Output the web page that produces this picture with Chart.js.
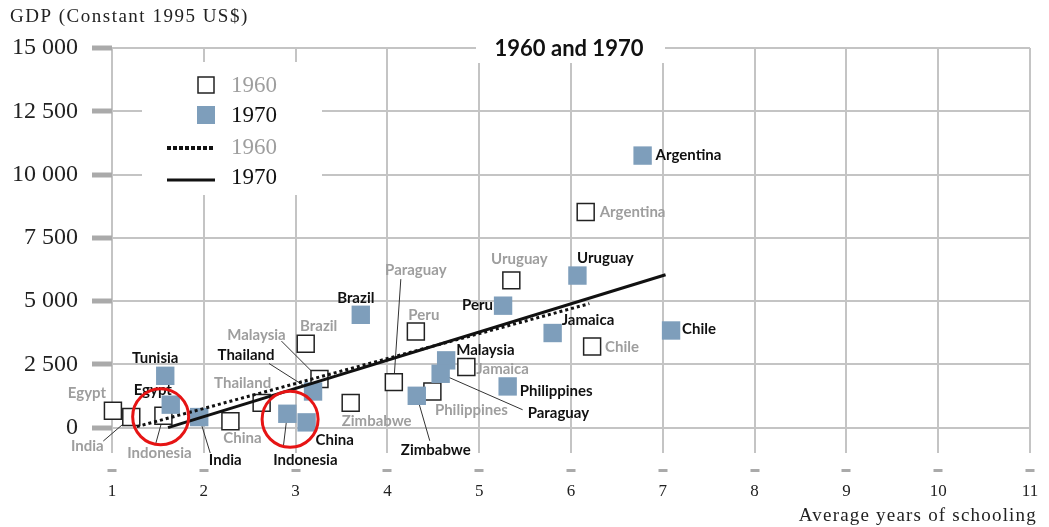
<!DOCTYPE html>
<html>
<head>
<meta charset="utf-8">
<title>GDP vs schooling</title>
<script src="https://cdn.jsdelivr.net/npm/chart.js@4.4.0/dist/chart.umd.min.js"></script>
<style>
  html, body { margin: 0; padding: 0; background: #fff; }
  #wrap { width: 1049px; height: 527px; }
</style>
</head>
<body>
<div id="wrap"><canvas id="chart" width="1049" height="527"></canvas></div>
<script>
// values (years of schooling / GDP constant 1995 US$)
const countries1970 = ['Argentina', 'Uruguay', 'Chile', 'Jamaica', 'Peru', 'Malaysia', 'Paraguay', 'Philippines',
    'Zimbabwe', 'Brazil', 'Thailand', 'Indonesia', 'China', 'India', 'Egypt', 'Tunisia'];
const school1970 = [6.78, 6.07, 7.09, 5.80, 5.26, 4.64, 4.58, 5.31, 4.32, 3.71, 3.19, 2.91, 3.12, 1.95, 1.64, 1.58];
const gdp1970 = [10750, 6010, 3840, 3740, 4820, 2660, 2130, 1630, 1260, 4460, 1430, 550, 210, 420, 910, 2050];

const countries1960 = ['Argentina', 'Chile', 'Uruguay', 'Peru', 'Jamaica', 'Philippines', 'Paraguay', 'Zimbabwe',
    'Brazil', 'Malaysia', 'Thailand', 'China', 'Egypt', 'India', 'Indonesia'];
const school1960 = [6.16, 6.23, 5.35, 4.31, 4.86, 4.49, 4.07, 3.60, 3.11, 3.26, 2.63, 2.29, 1.01, 1.21, 1.56];
const gdp1960 = [8520, 3210, 5820, 3800, 2400, 1430, 1800, 980, 3320, 1920, 980, 250, 670, 420, 470];

// trend lines (end points)
const trend1960X = [1.27, 6.2];
const trend1960Y = [40, 4900];
const trend1970X = [1.61, 7.03];
const trend1970Y = [0, 6040];

// red highlight circles
const circleX = [1.53, 2.94];
const circleY = [430, 330];

const xTicks = [1, 2, 3, 4, 5, 6, 7, 8, 9, 10, 11];
const yTicks = [0, 2500, 5000, 7500, 10000, 12500, 15000];

// label placement (pixel offsets from the point; lead = end of leader line)
const labelPos1970 = {
    Argentina: { dx: 13, dy: 0, a: 'left' },
    Uruguay: { dx: 28, dy: -17, a: 'center' },
    Chile: { dx: 11, dy: -1, a: 'left' },
    Jamaica: { dx: 9, dy: -13, a: 'left' },
    Peru: { dx: -10, dy: -1, a: 'right' },
    Malaysia: { dx: 10, dy: -10, a: 'left' },
    Paraguay: { dx: 87, dy: 39, a: 'left', lead: [82, 36] },
    Philippines: { dx: 12, dy: 5, a: 'left' },
    Zimbabwe: { dx: 19, dy: 54, a: 'center', lead: [13, 45] },
    Brazil: { dx: -5, dy: -17, a: 'center' },
    Thailand: { dx: -67, dy: -36, a: 'center', lead: [-44, -28] },
    Indonesia: { dx: 18, dy: 46, a: 'center', lead: [-4, 33] },
    China: { dx: 9, dy: 18, a: 'left' },
    India: { dx: 26, dy: 43, a: 'center', lead: [11, 36] },
    Egypt: { dx: -18, dy: -14, a: 'center' },
    Tunisia: { dx: -10, dy: -18, a: 'center' }
};
const labelPos1960 = {
    Argentina: { dx: 14, dy: 0, a: 'left' },
    Chile: { dx: 13, dy: 1, a: 'left' },
    Uruguay: { dx: 8, dy: -21, a: 'center' },
    Peru: { dx: 8, dy: -16, a: 'center' },
    Jamaica: { dx: 10, dy: 2, a: 'left' },
    Philippines: { dx: 39, dy: 19, a: 'center' },
    Paraguay: { dx: 22, dy: -112, a: 'center', lead: [7, -103] },
    Zimbabwe: { dx: 26, dy: 18, a: 'center' },
    Brazil: { dx: 13, dy: -17, a: 'center' },
    Malaysia: { dx: -63, dy: -44, a: 'center', lead: [-38, -38] },
    Thailand: { dx: -19, dy: -20, a: 'center' },
    China: { dx: 12, dy: 17, a: 'center' },
    Egypt: { dx: -26, dy: -18, a: 'center' },
    India: { dx: -44, dy: 29, a: 'center', lead: [-28, 24] },
    Indonesia: { dx: -4, dy: 37, a: 'center', lead: [-8, 29] }
};

const BLUE = 'rgb(126, 158, 187)';
const GREY_TEXT = 'rgb(158, 158, 158)';
const GRID = 'rgb(196, 196, 196)';
const SERIF = '"Liberation Serif", "DejaVu Serif", serif';
const SANS = 'Lato, "Open Sans", sans-serif';

function toPoints(xs, ys) {
    return xs.map((x, i) => ({ x: x, y: ys[i] }));
}

function fmtThousands(v) {
    return String(v).replace(/\B(?=(\d{3})+(?!\d))/g, ' ');
}

function drawLabels(chart, dsIndex, names, layout, color) {
    const ctx = chart.ctx;
    const meta = chart.getDatasetMeta(dsIndex);
    ctx.save();
    ctx.font = 'bold 15px ' + SANS;
    ctx.textBaseline = 'middle';
    meta.data.forEach((pt, i) => {
        const pos = layout[names[i]];
        if (!pos) return;
        if (pos.lead) {
            ctx.strokeStyle = '#333';
            ctx.lineWidth = 1;
            ctx.beginPath();
            ctx.moveTo(pt.x, pt.y);
            ctx.lineTo(pt.x + pos.lead[0], pt.y + pos.lead[1]);
            ctx.stroke();
        }
        ctx.fillStyle = color;
        ctx.textAlign = pos.a;
        ctx.fillText(names[i], pt.x + pos.dx, pt.y + pos.dy);
    });
    ctx.restore();
}

const decorations = {
    id: 'decorations',
    beforeDatasetsDraw(chart) {
        const ctx = chart.ctx;
        const ca = chart.chartArea;

        // title box on top of the grid
        ctx.save();
        ctx.fillStyle = '#fff';
        ctx.fillRect(ca.left + 364, ca.top - 13, 189, 28);
        ctx.fillStyle = '#111';
        ctx.font = 'bold 22px ' + SANS;
        ctx.textAlign = 'center';
        ctx.textBaseline = 'middle';
        ctx.fillText('1960 and 1970', ca.left + 457, ca.top + 1);

        // legend box
        const lx = ca.left, ly = ca.top;
        ctx.fillStyle = '#fff';
        ctx.fillRect(lx + 30, ly + 14, 180, 133);
        ctx.fillStyle = '#fff';
        ctx.strokeStyle = '#222';
        ctx.lineWidth = 1.5;
        ctx.fillRect(lx + 86, ly + 29, 16, 16);
        ctx.strokeRect(lx + 86, ly + 29, 16, 16);
        ctx.fillStyle = BLUE;
        ctx.fillRect(lx + 85, ly + 58, 18, 18);

        ctx.strokeStyle = '#111';
        ctx.lineWidth = 4;
        ctx.setLineDash([4, 2]);
        ctx.beginPath();
        ctx.moveTo(lx + 55, ly + 100);
        ctx.lineTo(lx + 103, ly + 100);
        ctx.stroke();
        ctx.setLineDash([]);
        ctx.lineWidth = 3;
        ctx.beginPath();
        ctx.moveTo(lx + 55, ly + 132);
        ctx.lineTo(lx + 103, ly + 132);
        ctx.stroke();

        ctx.font = '23px ' + SERIF;
        ctx.textAlign = 'left';
        ctx.textBaseline = 'middle';
        ctx.fillStyle = GREY_TEXT;
        ctx.fillText('1960', lx + 119, ly + 38);
        ctx.fillText('1960', lx + 119, ly + 100);
        ctx.fillStyle = '#111';
        ctx.fillText('1970', lx + 119, ly + 68);
        ctx.fillText('1970', lx + 119, ly + 130);
        ctx.restore();

        // country labels sit under the markers
        drawLabels(chart, 3, countries1960, labelPos1960, GREY_TEXT);
        drawLabels(chart, 4, countries1970, labelPos1970, '#111');
    },
    afterDraw(chart) {
        const ctx = chart.ctx;
        ctx.save();
        ctx.fillStyle = '#222';
        ctx.font = '19px ' + SERIF;
        ctx.letterSpacing = '1.5px';
        ctx.textBaseline = 'middle';
        ctx.textAlign = 'left';
        ctx.fillText('GDP (Constant 1995 US$)', 10, 17);
        ctx.letterSpacing = '1.2px';
        ctx.textAlign = 'right';
        ctx.fillText('Average years of schooling', 1037, 516);
        ctx.restore();
    }
};

const ctx = document.getElementById('chart').getContext('2d');
new Chart(ctx, {
    type: 'scatter',
    data: {
        datasets: [
            {
                label: 'circles',
                data: toPoints(circleX, circleY),
                pointStyle: 'circle',
                pointRadius: 28,
                pointBorderWidth: 3,
                borderColor: 'rgb(230, 20, 20)',
                backgroundColor: 'rgba(0,0,0,0)',
                order: 0,
                clip: false
            },
            {
                label: '1970 trend',
                data: toPoints(trend1970X, trend1970Y),
                showLine: true,
                borderColor: '#111',
                borderWidth: 3,
                pointRadius: 0,
                order: 1,
                clip: false
            },
            {
                label: '1960 trend',
                data: toPoints(trend1960X, trend1960Y),
                showLine: true,
                borderColor: '#111',
                borderWidth: 3,
                borderDash: [3, 3],
                pointRadius: 0,
                order: 2,
                clip: false
            },
            {
                label: '1960',
                data: toPoints(school1960, gdp1960),
                pointStyle: 'rect',
                pointRadius: 12,
                backgroundColor: '#fff',
                borderColor: '#222',
                pointBorderWidth: 1.5,
                order: 4,
                clip: false
            },
            {
                label: '1970',
                data: toPoints(school1970, gdp1970),
                pointStyle: 'rect',
                pointRadius: 13,
                backgroundColor: BLUE,
                borderColor: BLUE,
                pointBorderWidth: 0,
                order: 3,
                clip: false
            }
        ]
    },
    options: {
        responsive: false,
        animation: false,
        events: [],
        layout: {
            autoPadding: false,
            padding: { top: 48, right: 19, left: 0, bottom: 0 }
        },
        plugins: {
            legend: { display: false },
            tooltip: { enabled: false },
            title: { display: false }
        },
        scales: {
            x: {
                type: 'linear',
                min: 1,
                max: 11,
                afterBuildTicks: s => { s.ticks = xTicks.map(v => ({ value: v })); },
                afterFit: s => {
                    s.height = 74;
                    s.paddingLeft = 0;
                    s.paddingRight = 0;
                },
                border: { display: false },
                grid: {
                    color: GRID,
                    lineWidth: 2,
                    tickLength: 20,
                    tickWidth: 9,
                    tickColor: '#aaa',
                    tickBorderDash: [0, 16, 3, 100]
                },
                ticks: {
                    color: '#222',
                    font: { family: SERIF, size: 17 },
                    padding: 8
                }
            },
            y: {
                type: 'linear',
                min: -1000,
                max: 15000,
                afterBuildTicks: s => { s.ticks = yTicks.map(v => ({ value: v })); },
                afterFit: s => { s.width = 112; },
                border: { display: false },
                grid: {
                    color: GRID,
                    lineWidth: 2,
                    tickLength: 20,
                    tickWidth: 5,
                    tickColor: '#aaa'
                },
                ticks: {
                    color: '#222',
                    font: { family: SERIF, size: 24 },
                    padding: 14,
                    callback: v => fmtThousands(v)
                }
            }
        }
    },
    plugins: [decorations]
});
</script>
</body>
</html>
